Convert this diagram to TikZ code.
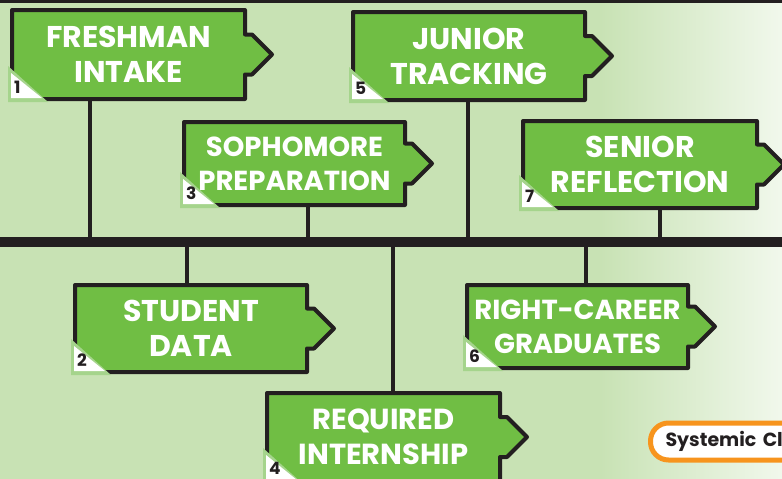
\documentclass[tikz,border=0pt]{standalone}
\usepackage{fontspec}
\setmainfont{Poppins}
\definecolor{bggreen}{RGB}{200,226,180}
\definecolor{boxgreen}{RGB}{112,190,68}
\definecolor{taggreen}{RGB}{165,212,140}
\definecolor{ink}{RGB}{35,31,32}
\definecolor{sysorange}{RGB}{247,148,29}
\begin{document}
\begin{tikzpicture}[x=1pt, y=-1pt]
    \tikzstyle{box}   = [fill=boxgreen, draw=ink, line width=4pt, line join=round]
    \tikzstyle{title} = [text=white, align=center, font=\bfseries\fontsize{30}{35}\selectfont, inner sep=0pt]
    \tikzstyle{small} = [font=\bfseries\fontsize{27.5}{34}\selectfont]
    \tikzstyle{tag}   = [fill=taggreen]
    \tikzstyle{num}   = [anchor=base west, inner sep=0pt, text=ink, font=\bfseries\fontsize{17}{17}\selectfont]
    \tikzstyle{stem}  = [draw=ink, line width=4pt]

    \useasboundingbox (0,0) rectangle (782,479);
    \clip (0,0) rectangle (782,479);

    % background
    \fill[bggreen] (0,0) rectangle (782,479);
    \shade[left color=bggreen, right color={rgb,255:red,241;green,248;blue,236}] (600,0) rectangle (782,479);
    \draw[ink, line width=3pt] (0,1.5) -- (782,1.5);

    % time line
    \coordinate (barL) at (0,242);
    \coordinate (barR) at (782,242);
    \draw[ink, line width=10pt] (barL) -- (barR);

    % 1
    \draw[box] (12,10) -| (245,34.5) -- ++(7,0) -- ++(20,20) -- ++(-20,20) -- ++(-7,0) |- (12,99) -- cycle;
    \node[title] (freshman) at (128.5,54.5) {FRESHMAN\\INTAKE};
    \fill[tag] (8,66) -- (8,102) -- (48,102) -- cycle;
    \fill[white] (11,73) -- (11,98) -- (42,98) -- cycle;
    \node[num] (n1) at (14,93) {1};
    \coordinate (s1) at (90,101);
    \draw[stem] (s1) -- (s1 |- barL);

    % 2
    \draw[box] (75,285) -| (307,308.5) -- ++(7,0) -- ++(20,20) -- ++(-20,20) -- ++(-7,0) |- (75,372) -- cycle;
    \node[title] (student) at (191,328.5) {STUDENT\\DATA};
    \fill[tag] (71,339) -- (71,375) -- (111,375) -- cycle;
    \fill[white] (74,346) -- (74,371) -- (105,371) -- cycle;
    \node[num] (n2) at (77,366) {2};
    \coordinate (s2) at (187,283);
    \draw[stem] (s2) -- (s2 |- barL);

    % 3
    \draw[box] (184,122) -| (405,143.5) -- ++(7,0) -- ++(20,20) -- ++(-20,20) -- ++(-7,0) |- (184,205) -- cycle;
    \node[title, small] (sophomore) at (294.5,163.5) {SOPHOMORE\\PREPARATION};
    \fill[tag] (180,172) -- (180,208) -- (220,208) -- cycle;
    \fill[white] (183,179) -- (183,204) -- (214,204) -- cycle;
    \node[num] (n3) at (186,199) {3};
    \coordinate (s3) at (308,207);
    \draw[stem] (s3) -- (s3 |- barL);

    % 4
    \draw[box] (267,393) -| (500,417) -- ++(7,0) -- ++(20,20) -- ++(-20,20) -- ++(-7,0) |- (267,481) -- cycle;
    \node[title, font=\bfseries\fontsize{29}{35}\selectfont] (internship) at (383.5,437) {REQUIRED\\INTERNSHIP};
    \fill[tag] (263,448) -- (263,484) -- (303,484) -- cycle;
    \fill[white] (266,455) -- (266,480) -- (297,480) -- cycle;
    \node[num] (n4) at (269,474) {4};
    \coordinate (s4) at (393,391);
    \draw[stem] (s4) -- (s4 |- barL);

    % 5
    \draw[box] (353,12) -| (585,36) -- ++(7,0) -- ++(20,20) -- ++(-20,20) -- ++(-7,0) |- (353,100) -- cycle;
    \node[title] (junior) at (469,56) {JUNIOR\\TRACKING};
    \fill[tag] (349,67) -- (349,103) -- (389,103) -- cycle;
    \fill[white] (352,74) -- (352,99) -- (383,99) -- cycle;
    \node[num] (n5) at (355,94) {5};
    \coordinate (s5) at (468,102);
    \draw[stem] (s5) -- (s5 |- barL);

    % 6
    \draw[box] (467,285) -| (688,306.5) -- ++(7,0) -- ++(20,20) -- ++(-20,20) -- ++(-7,0) |- (467,368) -- cycle;
    \node[title, small] (graduates) at (577.5,326.5) {RIGHT-CAREER\\GRADUATES};
    \fill[tag] (463,335) -- (463,371) -- (503,371) -- cycle;
    \fill[white] (466,342) -- (466,367) -- (497,367) -- cycle;
    \node[num] (n6) at (469,362) {6};
    \coordinate (s6) at (586,283);
    \draw[stem] (s6) -- (s6 |- barL);

    % 7
    \draw[box] (523,121) -| (757,144.5) -- ++(7,0) -- ++(20,20) -- ++(-20,20) -- ++(-7,0) |- (523,208) -- cycle;
    \node[title] (senior) at (640,164.5) {SENIOR\\REFLECTION};
    \fill[tag] (519,175) -- (519,211) -- (559,211) -- cycle;
    \fill[white] (522,182) -- (522,207) -- (553,207) -- cycle;
    \node[num] (n7) at (525,202) {7};
    \coordinate (s7) at (660,210);
    \draw[stem] (s7) -- (s7 |- barL);

    % legend
    \node[draw=sysorange, fill=white, line width=5pt, rounded corners=18pt, anchor=west,
          minimum height=37pt, text width=170pt, align=left, inner xsep=15pt, text=ink,
          font=\bfseries\fontsize{19}{19}\selectfont] (systemic) at (648,441.5) {Systemic Cl};
\end{tikzpicture}
\end{document}
